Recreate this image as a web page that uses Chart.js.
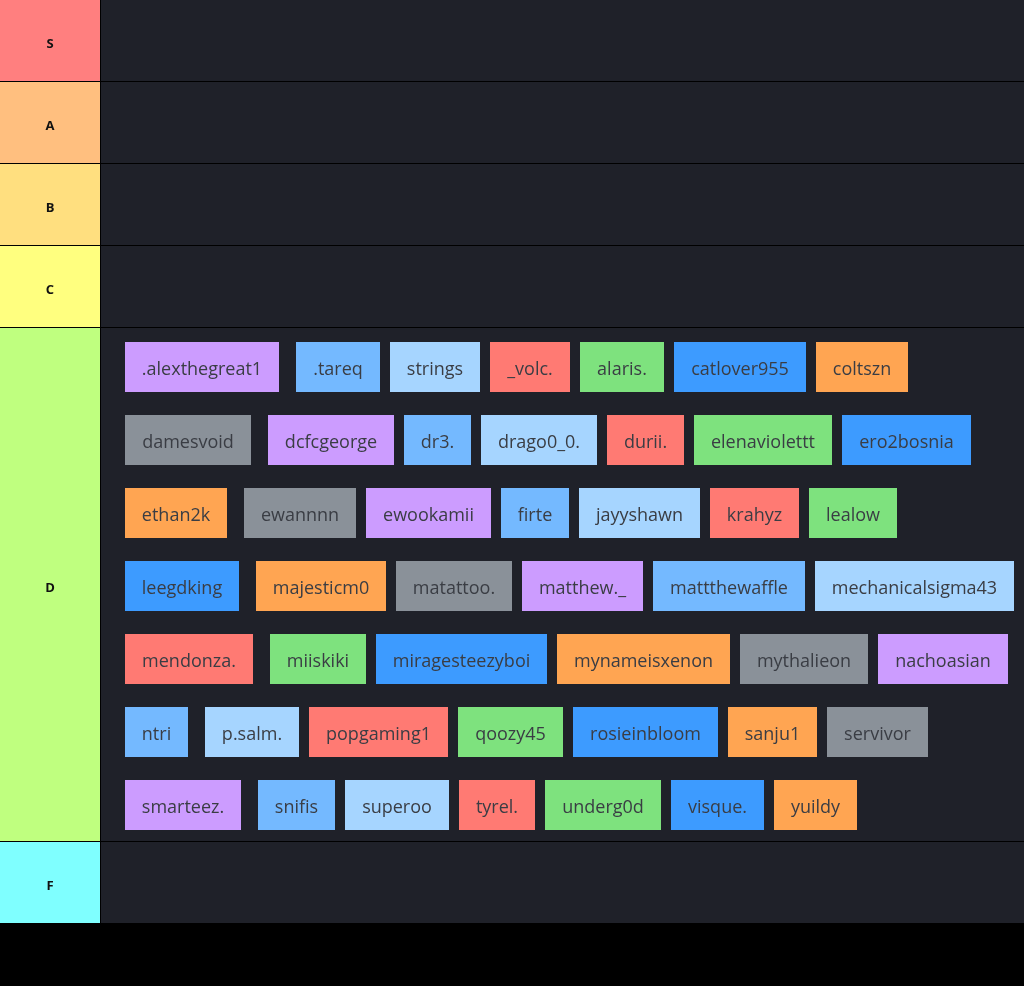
<!DOCTYPE html>
<html><head><meta charset="utf-8">
<script src="https://cdn.jsdelivr.net/npm/chart.js@4"></script>
<style>html,body{margin:0;padding:0;background:#000;}canvas{display:block}</style>
</head><body>
<canvas id="c" width="1024" height="986"></canvas>
<script>
const tiers = ["S","A","B","C","D","F"];
const tierColors = ["#ff7f7f","#ffbf7f","#ffdf7f","#ffff7f","#bfff7f","#7fffff"];
const tierOfItems = "D";
const items = [".alexthegreat1",".tareq","strings","_volc.","alaris.","catlover955","coltszn",
"damesvoid","dcfcgeorge","dr3.","drago0_0.","durii.","elenaviolettt","ero2bosnia",
"ethan2k","ewannnn","ewookamii","firte","jayyshawn","krahyz","lealow",
"leegdking","majesticm0","matattoo.","matthew._","mattthewaffle",
"mechanicalsigma43","mendonza.","miiskiki","miragesteezyboi","mynameisxenon",
"mythalieon","nachoasian","ntri","p.salm.","popgaming1","qoozy45","rosieinbloom",
"sanju1","servivor","smarteez.","snifis","superoo","tyrel.","underg0d","visque.",
"yuildy"];
const chipPalette = ["#cc9cff","#74b9ff","#a6d5ff","#ff7a73","#7ee27e","#3d9bff","#ffa552","#8a9199"];

const FONT = "18px 'Open Sans'";
const plugin = {
  id:'tier',
  afterDraw(chart){
    const ctx = chart.ctx, xs = chart.scales.x, ys = chart.scales.y;
    const R=(x0,y0,x1,y1,c)=>{const a=xs.getPixelForValue(x0),b=ys.getPixelForValue(y0);
      ctx.fillStyle=c;ctx.fillRect(a,b,xs.getPixelForValue(x1)-a,ys.getPixelForValue(y1)-b);};
    R(0,0,1024,986,"#000");
    ctx.font = FONT;
    const chips=[]; let cx=125, cy=342, first=true; const maxR=1014, h=50;
    items.forEach((t,i)=>{
      const w=Math.round(ctx.measureText(t).width)+34;
      if(cx+w>maxR){cx=125;cy+=73;first=true;}
      chips.push({t,x:cx,y:cy,w,c:chipPalette[i%chipPalette.length]});
      cx+=w+(first?17:10); first=false;
    });
    const dH = (cy+h+11)-328;
    let y=0;
    tiers.forEach((t,i)=>{
      const hh = t===tierOfItems ? dH : 81;
      R(0,y,100,y+hh,tierColors[i]);
      R(101,y,1024,y+hh,"#1f2129");
      ctx.fillStyle="#111";ctx.font="bold 13px 'Open Sans'";ctx.textAlign="center";ctx.textBaseline="middle";
      ctx.fillText(t,xs.getPixelForValue(50),ys.getPixelForValue(y+hh/2+4));
      y+=hh+1;
    });
    ctx.font=FONT;
    chips.forEach(ch=>{
      R(ch.x,ch.y,ch.x+ch.w,ch.y+h,ch.c);
      ctx.fillStyle="#3a3d44";ctx.textAlign="center";ctx.textBaseline="middle";
      ctx.fillText(ch.t,xs.getPixelForValue(ch.x+ch.w/2),ys.getPixelForValue(ch.y+h/2+3));
    });
  }
};
new Chart(document.getElementById('c'),{
  type:'scatter',
  data:{datasets:[{data:[]}]},
  options:{responsive:false,animation:false,devicePixelRatio:1,
    layout:{padding:0},
    plugins:{legend:{display:false},tooltip:{enabled:false}},
    scales:{x:{type:'linear',min:0,max:1024,display:false},
            y:{type:'linear',min:0,max:986,reverse:true,display:false}}},
  plugins:[plugin]
});
</script>
</body></html>
